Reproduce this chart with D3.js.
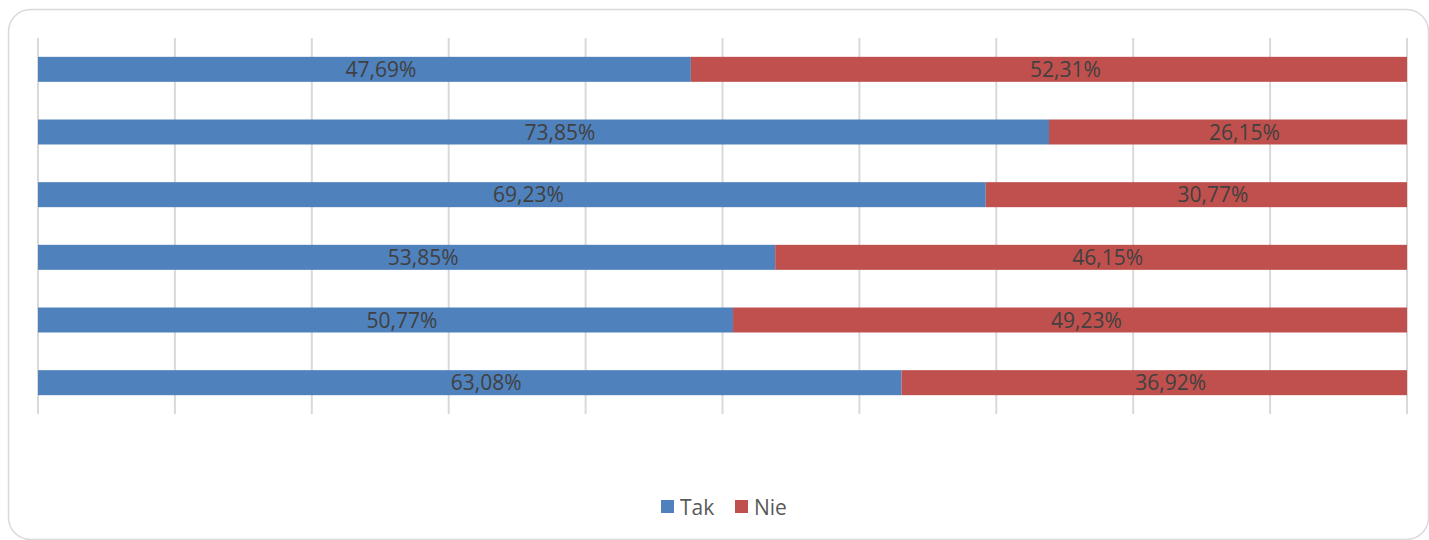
<!DOCTYPE html>
<html>
<head>
<meta charset="utf-8">
<script src="https://cdn.jsdelivr.net/npm/d3@7"></script>
<style>
  html, body { margin: 0; padding: 0; background: #fff; }
  svg { display: block; }
</style>
</head>
<body>
<svg id="chart" width="1429" height="540"></svg>
<script>
const categories = ["1", "2", "3", "4", "5", "6"];
const seriesNames = ["Tak", "Nie"];
const takValues = [47.69, 73.85, 69.23, 53.85, 50.77, 63.08];
const nieValues = [52.31, 26.15, 30.77, 46.15, 49.23, 36.92];
const xTicks = [0, 10, 20, 30, 40, 50, 60, 70, 80, 90, 100];
const colors = ["#4f81bd", "#c0504d"];

const svg = d3.select("#chart");
const font = "'Open Sans', 'Liberation Sans', sans-serif";

// outer frame
svg.append("rect")
  .attr("x", 8.5).attr("y", 9.5)
  .attr("width", 1420).attr("height", 530)
  .attr("rx", 22).attr("ry", 22)
  .attr("fill", "#fff")
  .attr("stroke", "#d9d9d9").attr("stroke-width", 1.5);

const plot = { left: 38, right: 1407, top: 38, bottom: 414 };

const x = d3.scaleLinear().domain([0, 100]).range([plot.left, plot.right]);
const y = d3.scaleBand().domain(categories).range([plot.top, plot.bottom]).paddingInner(0.6).paddingOuter(0.3);

// gridlines
svg.append("g").selectAll("line")
  .data(xTicks).join("line")
  .attr("x1", d => x(d)).attr("x2", d => x(d))
  .attr("y1", plot.top).attr("y2", plot.bottom)
  .attr("stroke", "#d9d9d9").attr("stroke-width", 2);

const rows = categories.map((c, i) => ({ cat: c, vals: [takValues[i], nieValues[i]] }));
const stacked = [];
rows.forEach(r => {
  let acc = 0;
  r.vals.forEach((v, si) => {
    stacked.push({ cat: r.cat, s: si, x0: acc, x1: acc + v, v: v });
    acc += v;
  });
});

const bandC = d => y(d.cat) + y.bandwidth() / 2;
const barH = 25;

svg.append("g").selectAll("rect")
  .data(stacked).join("rect")
  .attr("x", d => x(d.x0))
  .attr("width", d => x(d.x1) - x(d.x0))
  .attr("y", d => bandC(d) - barH / 2)
  .attr("height", barH)
  .attr("fill", d => colors[d.s]);

const fmt = v => v.toFixed(2).replace(".", ",") + "%";
svg.append("g").selectAll("text")
  .data(stacked).join("text")
  .attr("x", d => (x(d.x0) + x(d.x1)) / 2 + 16.5)
  .attr("y", d => bandC(d))
  .attr("dy", "0.36em")
  .attr("text-anchor", "middle")
  .attr("font-family", font)
  .attr("font-size", 21)
  .attr("fill", "#404040")
  .text(d => fmt(d.v));

// legend
const legendX = [661, 735];
const lg = svg.append("g").selectAll("g")
  .data(seriesNames).join("g")
  .attr("transform", (d, i) => `translate(${legendX[i]},500)`);
lg.append("rect").attr("width", 13).attr("height", 13).attr("fill", (d, i) => colors[i]);
lg.append("text")
  .attr("x", 19).attr("y", 7).attr("dy", "0.36em")
  .attr("font-family", font).attr("font-size", 21)
  .attr("fill", "#595959")
  .text(d => d);
</script>
</body>
</html>
